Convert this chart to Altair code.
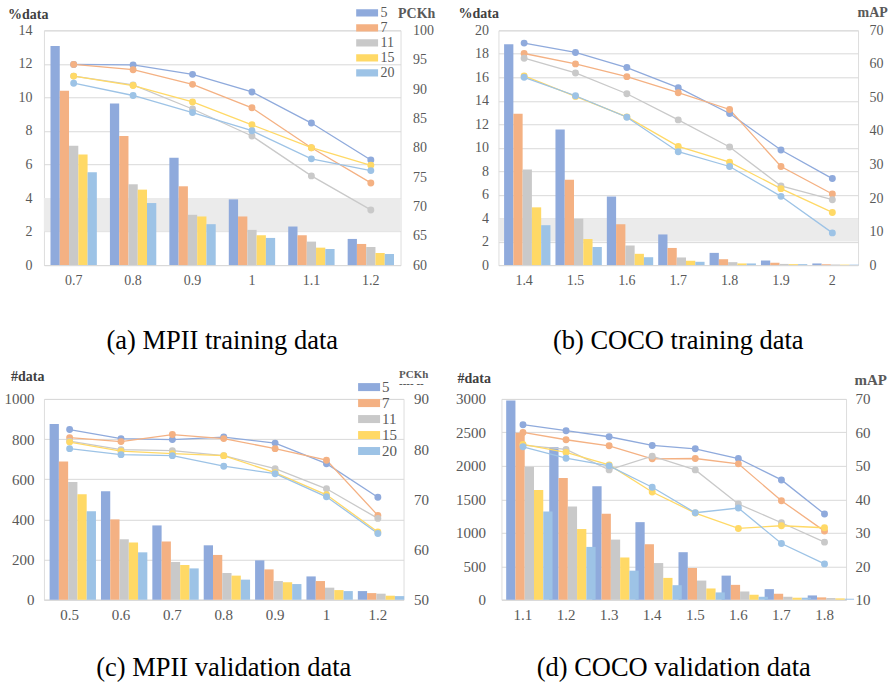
import altair as alt
import pandas as pd

SERIES = ["5", "7", "11", "15", "20"]
PALETTE = ["#8FAADC", "#F4B183", "#C9C9C9", "#FFD966", "#9DC3E6"]
SERIF = "Liberation Serif"

# (a) MPII training data
a_scales = ["0.7", "0.8", "0.9", "1", "1.1", "1.2"]
a_share = {
    "5": [13.06, 9.64, 6.40, 3.92, 2.30, 1.56],
    "7": [10.40, 7.70, 4.70, 2.90, 1.78, 1.26],
    "11": [7.12, 4.82, 3.00, 2.10, 1.40, 1.08],
    "15": [6.60, 4.50, 2.90, 1.78, 1.04, 0.72],
    "20": [5.54, 3.70, 2.44, 1.62, 0.96, 0.66],
}
a_pckh = {
    "5": [94.2, 94.1, 92.5, 89.5, 84.2, 77.9],
    "7": [94.2, 93.3, 90.8, 86.8, 80.0, 74.0],
    "11": [92.2, 90.7, 86.6, 82.0, 75.2, 69.4],
    "15": [92.2, 90.6, 87.8, 83.9, 80.0, 77.0],
    "20": [91.0, 88.9, 86.0, 82.9, 78.1, 76.1],
}

# (b) COCO training data
b_scales = ["1.4", "1.5", "1.6", "1.7", "1.8", "1.9", "2"]
b_share = {
    "5": [18.82, 11.55, 5.84, 2.61, 1.04, 0.39, 0.14],
    "7": [12.90, 7.28, 3.48, 1.46, 0.50, 0.20, 0.07],
    "11": [8.15, 3.96, 1.66, 0.65, 0.25, 0.10, 0.05],
    "15": [4.92, 2.22, 0.96, 0.37, 0.14, 0.08, 0.04],
    "20": [3.40, 1.54, 0.67, 0.28, 0.14, 0.08, 0.04],
}
b_map = {
    "5": [66.2, 63.4, 58.9, 52.9, 45.2, 34.3, 25.8],
    "7": [63.1, 60.0, 56.2, 51.4, 46.4, 29.4, 21.2],
    "11": [61.7, 57.3, 51.1, 43.3, 35.2, 23.6, 19.5],
    "15": [56.4, 50.3, 44.2, 35.4, 30.7, 22.8, 15.7],
    "20": [56.0, 50.5, 44.1, 33.8, 29.4, 20.5, 9.6],
}

# (c) MPII validation data
c_scales = ["0.5", "0.6", "0.7", "0.8", "0.9", "1", "1.2"]
c_count = {
    "5": [875, 540, 370, 271, 196, 116, 43],
    "7": [688, 400, 290, 223, 151, 93, 33],
    "11": [586, 301, 188, 133, 93, 60, 30],
    "15": [525, 285, 173, 120, 87, 48, 20],
    "20": [441, 236, 156, 100, 78, 43, 18],
}
c_pckh = {
    "5": [83.9, 82.1, 81.9, 82.4, 81.2, 77.1, 70.4],
    "7": [82.3, 81.5, 82.9, 82.1, 80.1, 77.8, 66.8],
    "11": [81.6, 79.9, 79.7, 78.7, 76.1, 72.1, 66.2],
    "15": [81.4, 79.6, 79.1, 78.7, 75.3, 70.9, 63.5],
    "20": [80.1, 78.9, 78.7, 76.6, 75.1, 70.5, 63.2],
}

# (d) COCO validation data
d_scales = ["1.1", "1.2", "1.3", "1.4", "1.5", "1.6", "1.7", "1.8"]
d_count = {
    "5": [2975, 2279, 1697, 1159, 710, 360, 158, 64],
    "7": [2496, 1820, 1283, 829, 474, 222, 89, 35],
    "11": [1988, 1391, 898, 548, 286, 123, 44, 25],
    "15": [1638, 1056, 631, 326, 168, 74, 30, 20],
    "20": [1317, 789, 434, 217, 109, 44, 30, 15],
}
d_map = {
    "5": [62.3, 60.5, 58.7, 56.1, 55.1, 52.2, 45.8, 35.6],
    "7": [60.0, 57.8, 56.0, 52.1, 52.2, 50.6, 39.6, 30.5],
    "11": [56.2, 54.9, 48.8, 52.9, 48.8, 38.6, 33.0, 27.2],
    "15": [56.4, 54.0, 50.3, 42.2, 35.9, 31.3, 32.1, 31.5],
    "20": [55.7, 52.3, 50.0, 43.6, 36.0, 37.4, 26.8, 20.7],
}

# shaded band on the training-data panels (%data from 2 to 4)
band_low = [2]
band_high = [4]

LABEL = "#595959"
GRID = "#D9D9D9"


def long_table(xs, table):
    rows = []
    for s in SERIES:
        for x, v in zip(xs, table[s]):
            rows.append({"x": x, "s": s, "v": v})
    return pd.DataFrame(rows)


def legend_for(lx, ly, key_w, key_h, offset, font, row_h):
    # flat rectangular keys; entry height fixed by clipHeight
    half = key_h / key_w
    path = f"M-1,-{half:.3f}H1V{half:.3f}H-1Z"
    return alt.Legend(
        title=None, orient="none", legendX=lx, legendY=ly,
        symbolType=path, symbolSize=key_w * key_w, symbolStrokeWidth=0,
        labelFont=SERIF, labelFontSize=font, labelColor=LABEL,
        labelOffset=offset, rowPadding=0, clipHeight=row_h, padding=0,
    )


def panel(xs, bars, lines, left, right, caption, cap_offset, w, h, legend,
          band=False, tick_fs=14):
    color = alt.Color("s:N", sort=SERIES,
                      scale=alt.Scale(domain=SERIES, range=PALETTE),
                      legend=legend)
    x = alt.X("x:N", sort=xs,
              scale=alt.Scale(paddingInner=0.22, paddingOuter=0.11),
              axis=alt.Axis(title=None, labelAngle=0, labelFont=SERIF,
                            labelFontSize=tick_fs, labelColor=LABEL,
                            ticks=False, domainColor=GRID, labelPadding=8))
    left_axis = alt.Axis(
        values=left["ticks"], format="d", grid=True, gridColor=GRID,
        domain=False, ticks=False, labelFont=SERIF, labelFontSize=tick_fs,
        labelColor=LABEL, labelPadding=left["pad"],
        title=left["title"], titleAngle=0, titleAlign="right",
        titleBaseline="middle", titleX=left["tx"], titleY=left["ty"],
        titleFont=SERIF, titleFontSize=left["tfs"], titleFontWeight="bold",
        titleColor="#404040",
    )
    right_axis = alt.Axis(
        orient="right", values=right["ticks"], format="d", grid=False,
        domain=False, ticks=False, labelFont=SERIF, labelFontSize=tick_fs,
        labelColor=LABEL, labelPadding=right["pad"],
        title=right["title"], titleAngle=0, titleAlign="left",
        titleBaseline="middle", titleX=right["tx"], titleY=right["ty"],
        titleFont=SERIF, titleFontSize=right["tfs"], titleFontWeight="bold",
        titleColor="#595959", titleLineHeight=right.get("tlh", 14),
    )
    ly = alt.Scale(domain=left["domain"], nice=False)
    ry = alt.Scale(domain=right["domain"], nice=False)

    bar_df = long_table(xs, bars)
    line_df = long_table(xs, lines)

    bar = alt.Chart(bar_df).mark_bar(width={"band": 1}).encode(
        x=x,
        xOffset=alt.XOffset("s:N", sort=SERIES,
                            scale=alt.Scale(paddingInner=0, paddingOuter=0)),
        y=alt.Y("v:Q", scale=ly, axis=left_axis),
        color=color,
    )
    left_layers = [bar]
    if band:
        band_df = pd.DataFrame({"lo": band_low, "hi": band_high})
        shade = alt.Chart(band_df).mark_rect(color="#EBEBEB").encode(
            y=alt.Y("lo:Q", scale=ly, axis=left_axis), y2="hi:Q")
        left_layers = [shade, bar]

    base = alt.Chart(line_df).encode(
        x=x,
        y=alt.Y("v:Q", scale=ry, axis=right_axis),
        color=color,
    )
    trend = base.mark_line(strokeWidth=1.3)
    dots = base.mark_point(filled=True, opacity=1, size=48)

    return alt.layer(
        alt.layer(*left_layers),
        alt.layer(trend, dots),
    ).resolve_scale(y="independent").properties(
        width=w, height=h,
        title=alt.TitleParams(caption, orient="bottom", font=SERIF,
                              fontSize=26.5, fontWeight="normal",
                              color="black", offset=cap_offset),
    )


pa = panel(
    a_scales, a_share, a_pckh,
    dict(domain=[0, 14], ticks=list(range(0, 15, 2)), title="%data",
         tx=4, ty=-16, tfs=14, pad=12),
    dict(domain=[60, 100], ticks=list(range(60, 101, 5)), title="PCKh",
         tx=-3, ty=-17, tfs=14, pad=12),
    "(a) MPII training data", 41, 357, 235,
    legend_for(312.5, -24, 22, 7.2, 2.5, 14, 13.1), band=True,
)
pb = panel(
    b_scales, b_share, b_map,
    dict(domain=[0, 20], ticks=list(range(0, 21, 2)), title="%data",
         tx=0, ty=-17, tfs=14, pad=10),
    dict(domain=[0, 70], ticks=list(range(0, 71, 10)), title="mAP",
         tx=-1, ty=-18, tfs=14, pad=11),
    "(b) COCO training data", 41, 360, 235,
    legend_for(312.5, -25.5, 22, 7.2, 2, 14, 13.1), band=True,
)
pc = panel(
    c_scales, c_count, c_pckh,
    dict(domain=[0, 1000], ticks=list(range(0, 1001, 200)), title="#data",
         tx=0, ty=-22, tfs=14, pad=10),
    dict(domain=[50, 90], ticks=list(range(50, 91, 10)),
         title=["PCKh", "---- --"], tx=-5, ty=-24, tfs=11, pad=10, tlh=9),
    "(c) MPII validation data", 32, 360, 201,
    legend_for(314.5, -19, 22, 8, 2, 15, 14.3),
    tick_fs=15,
)
pd_ = panel(
    d_scales, d_count, d_map,
    dict(domain=[0, 3000], ticks=list(range(0, 3001, 500)), title="#data",
         tx=-11, ty=-20, tfs=14, pad=16),
    dict(domain=[10, 70], ticks=list(range(10, 71, 10)), title="mAP",
         tx=8, ty=-19, tfs=15, pad=9),
    "(d) COCO validation data", 32, 345, 201,
    legend_for(304.5, -23.5, 23, 8, 2, 15, 14.75),
    tick_fs=15,
)

top = alt.hconcat(pa, pb, spacing=98, bounds="flush")
bottom = alt.hconcat(pc, pd_, spacing=98, bounds="flush")

chart = alt.vconcat(top, bottom, spacing=13).resolve_scale(
    color="independent"
).resolve_legend(color="independent").configure_view(
    stroke=None
).configure(
    padding={"left": 3, "top": 4, "right": 5, "bottom": 5},
    background="white",
)

chart.save("out.html", embed_options={"renderer": "svg", "actions": False})
